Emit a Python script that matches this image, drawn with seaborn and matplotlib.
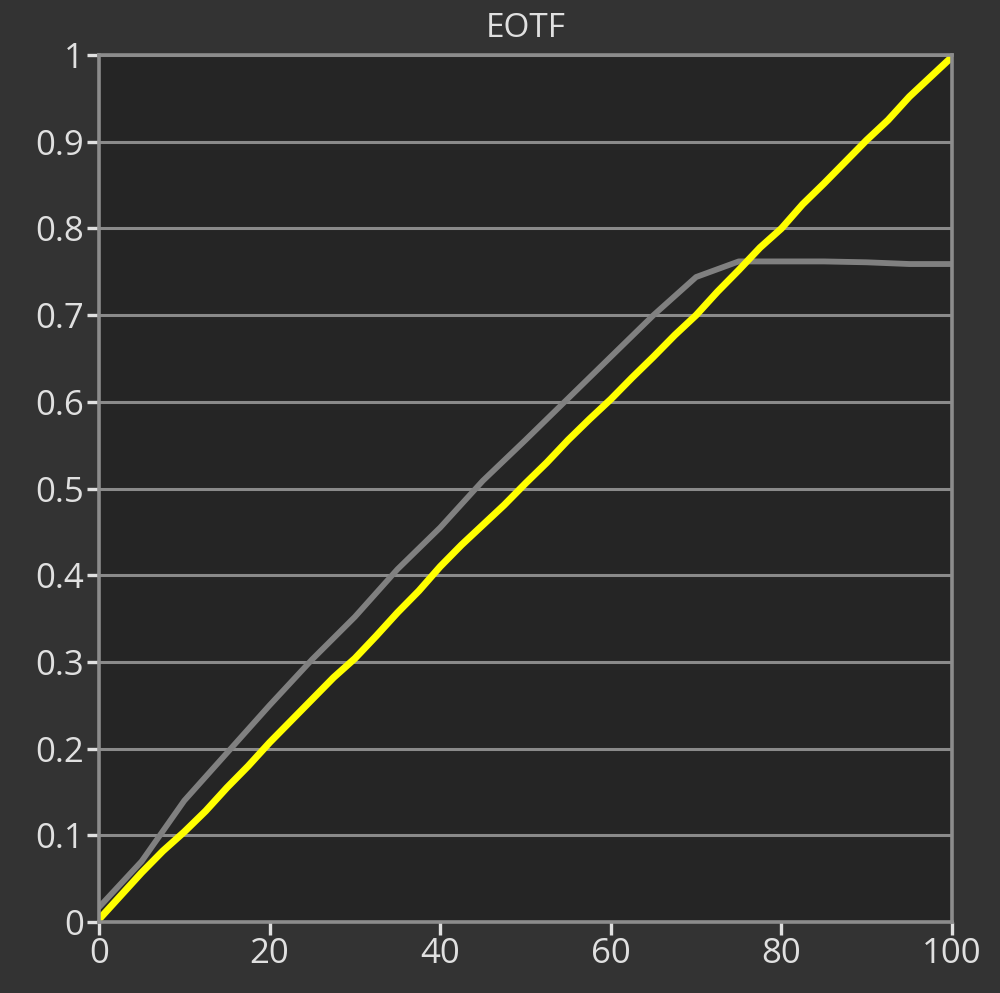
import numpy as np
import pandas as pd
import matplotlib
matplotlib.use("Agg")
import matplotlib.pyplot as plt
import seaborn as sns

gray_x = [0, 5, 10, 15, 20, 25, 30, 35, 40, 45, 50, 55, 60, 65, 70, 75, 80, 85, 90, 95, 100]
gray_y = [0.017, 0.070, 0.140, 0.195, 0.250, 0.303, 0.352, 0.407, 0.455, 0.509, 0.556,
          0.604, 0.652, 0.700, 0.744, 0.762, 0.762, 0.762, 0.761, 0.759, 0.759]

yellow_x = [0, 2.5, 5, 7.5, 10, 12.5, 15, 17.5, 20, 22.5, 25, 27.5, 30, 32.5, 35, 37.5, 40,
            42.5, 45, 47.5, 50, 52.5, 55, 57.5, 60, 62.5, 65, 67.5, 70, 72.5, 75, 77.5, 80,
            82.5, 85, 87.5, 90, 92.5, 95, 97.5, 100]
yellow_y = [0.003, 0.030, 0.057, 0.082, 0.104, 0.128, 0.155, 0.180, 0.207, 0.232, 0.257,
            0.282, 0.304, 0.330, 0.357, 0.382, 0.410, 0.435, 0.458, 0.481, 0.506, 0.530,
            0.556, 0.580, 0.603, 0.628, 0.652, 0.677, 0.700, 0.727, 0.752, 0.778, 0.800,
            0.828, 0.852, 0.877, 0.902, 0.925, 0.952, 0.975, 0.998]

x_ticks = [0, 20, 40, 60, 80, 100]
y_ticks = [0, 0.1, 0.2, 0.3, 0.4, 0.5, 0.6, 0.7, 0.8, 0.9, 1]
y_labels = ["0", "0.1", "0.2", "0.3", "0.4", "0.5", "0.6", "0.7", "0.8", "0.9", "1"]

df_gray = pd.DataFrame({"x": gray_x, "y": gray_y})
df_yellow = pd.DataFrame({"x": yellow_x, "y": yellow_y})

sns.set_style("dark")
plt.rcParams["font.family"] = ["Open Sans", "DejaVu Sans"]

fig = plt.figure(figsize=(10, 9.93), dpi=100, facecolor="#333333")
ax = fig.add_axes([0.099, 0.0715, 0.853, 0.873])
ax.set_facecolor("#252525")

sns.lineplot(data=df_gray, x="x", y="y", ax=ax, color="#808080", linewidth=4.2)
sns.lineplot(data=df_yellow, x="x", y="y", ax=ax, color="#ffff00", linewidth=5.0)

ax.set_xlim(0, 100)
ax.set_ylim(0, 1)
ax.set_xticks(x_ticks)
ax.set_yticks(y_ticks)
ax.set_yticklabels(y_labels)
ax.set_xlabel("")
ax.set_ylabel("")

ax.grid(axis="y", color="#8a8a8a", linewidth=2.2)
ax.grid(axis="x", visible=False)
ax.set_axisbelow(True)

for s in ax.spines.values():
    s.set_visible(True)
    s.set_color("#8c8c8c")
    s.set_linewidth(2.6)

ax.tick_params(axis="both", colors="#e0e0e0", labelcolor="#e0e0e0", labelsize=25,
               length=9, width=2.4, pad=2, bottom=True, left=True)

ax.set_title("EOTF", color="#e0e0e0", fontsize=24, pad=13)

fig.savefig("out.png", dpi=100, facecolor=fig.get_facecolor())
